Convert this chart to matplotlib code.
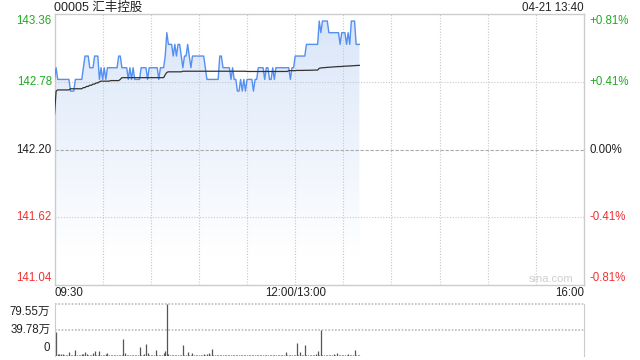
import numpy as np
import matplotlib
matplotlib.use("Agg")
import matplotlib.pyplot as plt
from matplotlib.transforms import offset_copy

plt.rcParams['font.family'] = ['Liberation Sans', 'Noto Sans CJK SC', 'DejaVu Sans']

# Chart data (minutes from 09:30, lunch break removed)
title = "00005 汇丰控股"
stamp = "04-21 13:40"
prev_close = 142.20
price_ticks = [143.36, 142.78, 142.20, 141.62, 141.04]
pct_labels = ["+0.81%", "+0.41%", "0.00%", "-0.41%", "-0.81%"]
time_labels = ["09:30", "12:00/13:00", "16:00"]
time_pos = [0, 150, 330]
vol_ticks = [79.55, 39.78, 0]
vol_labels = ["79.55万", "39.78万", "0"]

price = [
    142.8, 142.9, 142.8, 142.8, 142.8, 142.8, 142.8, 142.8, 142.8, 142.8,
    142.7, 142.7, 142.7, 142.8, 142.8, 142.8, 142.8, 142.8, 142.9, 143.0,
    143.0, 143.0, 142.9, 142.9, 142.9, 143.0, 143.0, 143.0, 142.8, 142.9,
    142.8, 142.9, 142.8, 142.9, 142.9, 142.9, 142.9, 142.9, 142.9, 142.9,
    143.0, 143.0, 142.9, 142.9, 142.9, 142.9, 142.8, 142.9, 142.8, 142.9,
    142.8, 142.8, 142.8, 142.8, 142.9, 142.9, 142.9, 142.9, 142.8, 142.9,
    142.9, 142.9, 142.9, 142.9, 142.9, 142.8, 142.9, 142.9, 142.9, 143.0,
    143.2, 143.1, 143.1, 143.1, 143.0, 143.1, 143.0, 143.1, 143.1, 143.0,
    142.9, 143.0, 143.0, 143.1, 143.0, 142.9, 143.0, 143.0, 143.0, 143.0,
    143.0, 143.0, 143.0, 143.0, 142.9, 142.8, 142.8, 142.8, 142.8, 142.8,
    142.8, 142.8, 142.8, 143.0, 143.0, 142.9, 142.9, 142.9, 142.9, 142.9,
    142.8, 142.9, 142.8, 142.8, 142.7, 142.7, 142.8, 142.7, 142.8, 142.7,
    142.8, 142.8, 142.8, 142.8, 142.7, 142.8, 142.8, 142.9, 142.9, 142.9,
    142.9, 142.8, 142.9, 142.9, 142.8, 142.8, 142.9, 142.8, 142.9, 142.9,
    142.9, 142.9, 142.9, 142.9, 142.9, 142.9, 142.9, 142.8, 142.9, 142.9,
    143.0, 143.0, 143.0, 143.0, 143.0, 143.0, 143.0, 143.1, 143.1, 143.1,
    143.1, 143.1, 143.1, 143.1, 143.1, 143.3, 143.2, 143.3, 143.3, 143.3,
    143.3, 143.2, 143.2, 143.2, 143.2, 143.2, 143.2, 143.2, 143.1, 143.2,
    143.2, 143.2, 143.1, 143.2, 143.1, 143.3, 143.3, 143.3, 143.1, 143.1,
    143.1,
]

avg_price = [
    142.50, 142.70, 142.71, 142.71, 142.71, 142.71, 142.71, 142.71, 142.71, 142.71,
    142.72, 142.72, 142.72, 142.72, 142.72, 142.72, 142.72, 142.72, 142.73, 142.73,
    142.74, 142.74, 142.75, 142.75, 142.76, 142.76, 142.77, 142.77, 142.78, 142.785,
    142.785, 142.785, 142.785, 142.785, 142.785, 142.79, 142.79, 142.79, 142.79, 142.79,
    142.79, 142.80, 142.815, 142.815, 142.815, 142.815, 142.815, 142.815, 142.815, 142.815,
    142.815, 142.815, 142.815, 142.815, 142.815, 142.815, 142.815, 142.815, 142.815, 142.815,
    142.815, 142.815, 142.815, 142.815, 142.815, 142.815, 142.815, 142.815, 142.815, 142.84,
    142.86, 142.865, 142.865, 142.865, 142.865, 142.865, 142.865, 142.865, 142.865, 142.865,
    142.87, 142.87, 142.87, 142.87, 142.87, 142.87, 142.87, 142.87, 142.87, 142.87,
    142.87, 142.87, 142.87, 142.87, 142.87, 142.87, 142.87, 142.87, 142.87, 142.87,
    142.87, 142.87, 142.87, 142.87, 142.87, 142.87, 142.87, 142.87, 142.87, 142.87,
    142.87, 142.87, 142.87, 142.87, 142.87, 142.87, 142.87, 142.87, 142.87, 142.87,
    142.868, 142.868, 142.868, 142.868, 142.868, 142.868, 142.868, 142.868, 142.868, 142.868,
    142.868, 142.868, 142.868, 142.868, 142.868, 142.868, 142.868, 142.868, 142.868, 142.868,
    142.868, 142.868, 142.868, 142.868, 142.868, 142.868, 142.875, 142.875, 142.875, 142.875,
    142.875, 142.877, 142.877, 142.877, 142.877, 142.877, 142.878, 142.878, 142.878, 142.878,
    142.879, 142.879, 142.88, 142.88, 142.88, 142.895, 142.898, 142.90, 142.90, 142.902,
    142.903, 142.904, 142.905, 142.906, 142.907, 142.908, 142.909, 142.91, 142.91, 142.911,
    142.912, 142.913, 142.914, 142.915, 142.915, 142.916, 142.917, 142.918, 142.919, 142.92,
    142.92,
]

volume = [
    35.5, 37.1, 2.5, 3.5, 3.0, 3.5, 1.2, 1.0, 1.5, 6.4,
    2.0, 1.0, 1.5, 9.5, 1.2, 0.8, 1.0, 2.5, 3.5, 6.4,
    3.0, 1.5, 1.0, 2.0, 4.0, 8.0, 2.0, 1.5, 8.0, 1.5,
    1.2, 1.0, 2.5, 4.0, 1.5, 1.0, 0.8, 1.2, 1.0, 1.5,
    1.0, 2.0, 1.5, 26.0, 4.0, 1.5, 1.0, 1.2, 0.8, 1.0,
    1.5, 1.0, 2.0, 13.3, 1.5, 1.0, 2.5, 18.0, 4.0, 1.5,
    1.0, 1.2, 1.5, 9.5, 2.0, 1.0, 1.5, 2.0, 4.0, 8.0,
    79.55, 2.5, 1.5, 1.0, 1.2, 1.0, 0.8, 1.5, 1.0, 2.0,
    16.4, 2.0, 1.5, 6.4, 2.0, 1.0, 4.8, 1.5, 1.2, 1.0,
    1.0, 1.5, 1.0, 2.5, 1.2, 3.5, 4.0, 2.0, 10.6, 1.5,
    1.0, 0.8, 1.2, 1.0, 1.5, 1.0, 0.8, 1.0, 1.2, 1.5,
    1.0, 1.2, 0.8, 1.5, 1.0, 1.2, 2.0, 1.0, 0.8, 1.0,
    1.5, 1.0, 1.2, 0.8, 1.0, 1.5, 1.0, 1.2, 1.0, 0.8,
    1.0, 1.5, 1.2, 1.0, 0.8, 1.0, 1.5, 1.0, 1.2, 1.0,
    2.0, 1.5, 1.0, 1.2, 6.4, 1.0, 0.8, 1.5, 1.0, 1.2,
    1.5, 19.6, 1.0, 6.4, 1.5, 1.0, 17.5, 1.2, 1.0, 1.5,
    1.0, 2.0, 1.2, 3.5, 8.0, 1.5, 39.8, 1.5, 1.0, 1.2,
    1.5, 1.0, 2.0, 1.2, 3.0, 1.5, 4.5, 1.0, 1.2, 1.0,
    1.5, 1.0, 1.2, 2.5, 1.0, 1.5, 2.0, 9.0, 1.5, 1.0,
    1.2,
]

minutes = np.arange(len(price))

GREEN = '#22aa22'
RED = '#ee3333'
BORDER = '#cccccc'


def label_color(v):
    if v > prev_close:
        return GREEN
    if v < prev_close:
        return RED
    return '#222222'


fig = plt.figure(figsize=(6.4, 3.6), dpi=100)
W, H = 640, 360
ax = fig.add_axes([54.5 / W, (H - 285) / H, 529.5 / W, 271 / H])
vax = fig.add_axes([54.5 / W, (H - 356) / H, 529.5 / W, 52 / H])

# --- price panel ---
for s in ax.spines.values():
    s.set_color(BORDER)
    s.set_linewidth(1)
ax.set_xticks([])
ax.set_yticks([])

# gradient area under price
poly = ax.fill_between(minutes, price, price_ticks[-1], facecolor='none', edgecolor='none')
t = np.linspace(0, 1, 256)[:, None, None]
top = np.array([0.85, 0.90, 0.975])
img = top * (1 - t) + np.array([1.0, 1.0, 1.0]) * t
im = ax.imshow(img, extent=[0, minutes[-1], 141.30, price_ticks[0]], aspect='auto',
               origin='upper', zorder=1, interpolation='bilinear')
im.set_clip_path(poly.get_paths()[0], transform=ax.transData)
ax.set_xlim(0, 330)
ax.set_ylim(price_ticks[-1], price_ticks[0])

for m in range(30, 330, 30):
    ax.axvline(m, color='#c8c8c8', lw=0.8, ls=(0, (1, 1.5)), zorder=2)
for v in price_ticks[1:-1]:
    if v == prev_close:
        ax.axhline(v, color='#aaaaaa', lw=0.8, ls=(0, (3, 1.5)), zorder=2)
    else:
        ax.axhline(v, color='#c8c8c8', lw=0.8, ls=(0, (1, 1.5)), zorder=2)

ax.plot(minutes, price, color='#5590f0', lw=1.0, zorder=3)
ax.plot(minutes, avg_price, color='#333333', lw=0.9, zorder=4)

ytrans = ax.get_yaxis_transform()
n = len(price_ticks)
for i, (v, p) in enumerate(zip(price_ticks, pct_labels)):
    dy = -6.5 if i == 0 else (7 if i == n - 1 else 0)
    tr = offset_copy(ytrans, fig=fig, x=0, y=dy, units='dots')
    ax.text(-0.005, v, f"{v:.2f}", transform=tr, ha='right', va='center',
            fontsize=8.3, color=label_color(v))
    ax.text(1.0095, v, p, transform=tr, ha='left', va='center',
            fontsize=8.3, color=label_color(v))

xtr = offset_copy(ax.get_xaxis_transform(), fig=fig, x=0, y=-8, units='dots')
aligns = ['left', 'center', 'right']
for lab, pos, ha in zip(time_labels, time_pos, aligns):
    ax.text(pos, 0, lab, transform=xtr, ha=ha, va='center', fontsize=8.3, color='#222222')

ax.text(0.0, 1.0, title, transform=offset_copy(ax.transAxes, fig=fig, x=0, y=6, units='dots'),
        ha='left', va='center', fontsize=9, color='#222222')
ax.text(1.0, 1.0, stamp, transform=offset_copy(ax.transAxes, fig=fig, x=0, y=6, units='dots'),
        ha='right', va='center', fontsize=8.3, color='#222222')
ax.text(0.938, 0.022, "sina.com", transform=ax.transAxes, ha='center', va='center',
        fontsize=8, color='#cfcfcf', zorder=5)

# --- volume panel ---
vax.set_xlim(0, 330)
vax.set_ylim(0, vol_ticks[0])
vax.set_xticks([])
vax.set_yticks([])
for side in ['top', 'bottom']:
    vax.spines[side].set_visible(False)
for side in ['left', 'right']:
    vax.spines[side].set_color(BORDER)
for v in vol_ticks[:-1]:
    vax.axhline(v, color='#bbbbbb', lw=1.2, ls=(0, (1, 1)), zorder=0, clip_on=False)
vax.vlines(minutes, 0, volume, color='#555555', lw=0.9)

vtr = vax.get_yaxis_transform()
for i, (v, lab) in enumerate(zip(vol_ticks, vol_labels)):
    dy = -7.5 if i == 0 else (8 if i == len(vol_ticks) - 1 else 0)
    tr = offset_copy(vtr, fig=fig, x=0, y=dy, units='dots')
    vax.text(-0.008, v, lab, transform=tr, ha='right', va='center', fontsize=8.3, color='#222222')

fig.savefig("out.png", dpi=100)
